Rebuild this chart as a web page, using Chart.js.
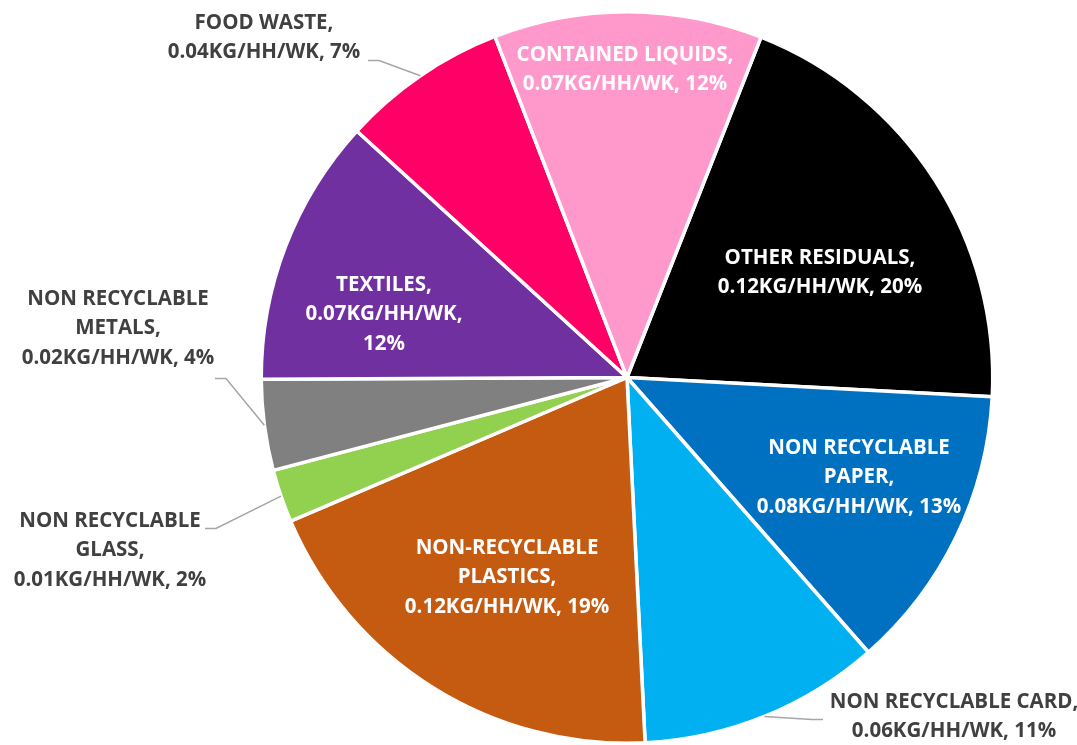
<!DOCTYPE html>
<html>
<head>
<meta charset="utf-8">
<script src="https://cdn.jsdelivr.net/npm/chart.js@4.4.0/dist/chart.umd.min.js"></script>
<style>
  html, body { margin: 0; padding: 0; background: #ffffff; }
  #grafica { display: block; }
</style>
</head>
<body>
<canvas id="grafica" width="1077" height="745"></canvas>
<script>
/* ============ DATOS ============ */
const categorias = [
  "OTHER RESIDUALS",
  "NON RECYCLABLE PAPER",
  "NON RECYCLABLE CARD",
  "NON-RECYCLABLE PLASTICS",
  "NON RECYCLABLE GLASS",
  "NON RECYCLABLE METALS",
  "TEXTILES",
  "FOOD WASTE",
  "CONTAINED LIQUIDS"
];
// kg por hogar por semana (estimado del gráfico)
const kgPorHogar = [0.119, 0.076, 0.064, 0.116, 0.014, 0.024, 0.071, 0.044, 0.071];
const unidad = "KG/HH/WK";

const colores = ["#000000", "#0070C0", "#00B0F0", "#C55A11", "#92D050", "#808080", "#7030A0", "#FF0066", "#FF99CC"];

/* ============ POSICION DE ETIQUETAS (px respecto al centro) ============ */
// [dx, dy, anchoMax, dentro, guiaX, guiaY]
const etiquetas = [
  [193, -105, 230, true],
  [232, 100, 215, true],
  [327, 339, 265, false, 196, 342],
  [-120, 200, 220, true],
  [-517, 173, 212, false, -422, 151],
  [-509, -49, 212, false, -412, 1],
  [-243, -63, 175, true],
  [-363, -340, 225, false, -259, -317],
  [-2, -308, 235, true]
];

const fuente = "bold 20.5px 'Open Sans'";
const altoLinea = 29.5;

function partir(ctx, texto, ancho) {
  const palabras = texto.split(" ");
  const lineas = [];
  let actual = "";
  palabras.forEach(p => {
    const prueba = actual ? actual + " " + p : p;
    if (actual && ctx.measureText(prueba).width > ancho) {
      lineas.push(actual);
      actual = p;
    } else {
      actual = prueba;
    }
  });
  if (actual) lineas.push(actual);
  return lineas;
}

const pluginEtiquetas = {
  id: "etiquetas",
  afterDatasetsDraw(chart) {
    const ctx = chart.ctx;
    const arcos = chart.getDatasetMeta(0).data;
    const total = kgPorHogar.reduce((a, b) => a + b, 0);
    ctx.save();
    ctx.font = fuente;
    ctx.textAlign = "center";
    ctx.textBaseline = "middle";
    arcos.forEach((arco, i) => {
      const { x, y, outerRadius, startAngle, endAngle } = arco.getProps(["x", "y", "outerRadius", "startAngle", "endAngle"], true);
      const [dx, dy, ancho, dentro, gx, gy] = etiquetas[i];
      const valor = kgPorHogar[i].toFixed(2) + unidad + ", " + Math.round(kgPorHogar[i] / total * 100) + "%";
      const lineas = partir(ctx, categorias[i] + ",", ancho).concat(partir(ctx, valor, ancho));

      // linea guia
      if (!dentro) {
        const medio = (startAngle + endAngle) / 2;
        const bx = x + outerRadius * Math.cos(medio);
        const by = y + outerRadius * Math.sin(medio);
        const ex = x + gx, ey = y + gy;
        const codo = ex + (bx > ex ? 11 : -11);
        ctx.strokeStyle = "#A6A6A6";
        ctx.lineWidth = 1.5;
        ctx.beginPath();
        ctx.moveTo(bx, by);
        ctx.lineTo(codo, ey);
        ctx.lineTo(ex, ey);
        ctx.stroke();
      }

      ctx.fillStyle = dentro ? "#FFFFFF" : "#404040";
      const y0 = y + dy - (lineas.length - 1) * altoLinea / 2;
      lineas.forEach((l, k) => ctx.fillText(l, x + dx, y0 + k * altoLinea));
    });
    ctx.restore();
  }
};

new Chart(document.getElementById("grafica"), {
  type: "pie",
  data: {
    labels: categorias,
    datasets: [{
      data: kgPorHogar,
      backgroundColor: colores,
      borderColor: "#FFFFFF",
      borderWidth: 3.5
    }]
  },
  options: {
    responsive: false,
    animation: false,
    rotation: 21.5,
    layout: { padding: { left: 259, right: 82, top: 10, bottom: 0 } },
    plugins: {
      legend: { display: false },
      tooltip: { enabled: false }
    }
  },
  plugins: [pluginEtiquetas]
});
</script>
</body>
</html>
